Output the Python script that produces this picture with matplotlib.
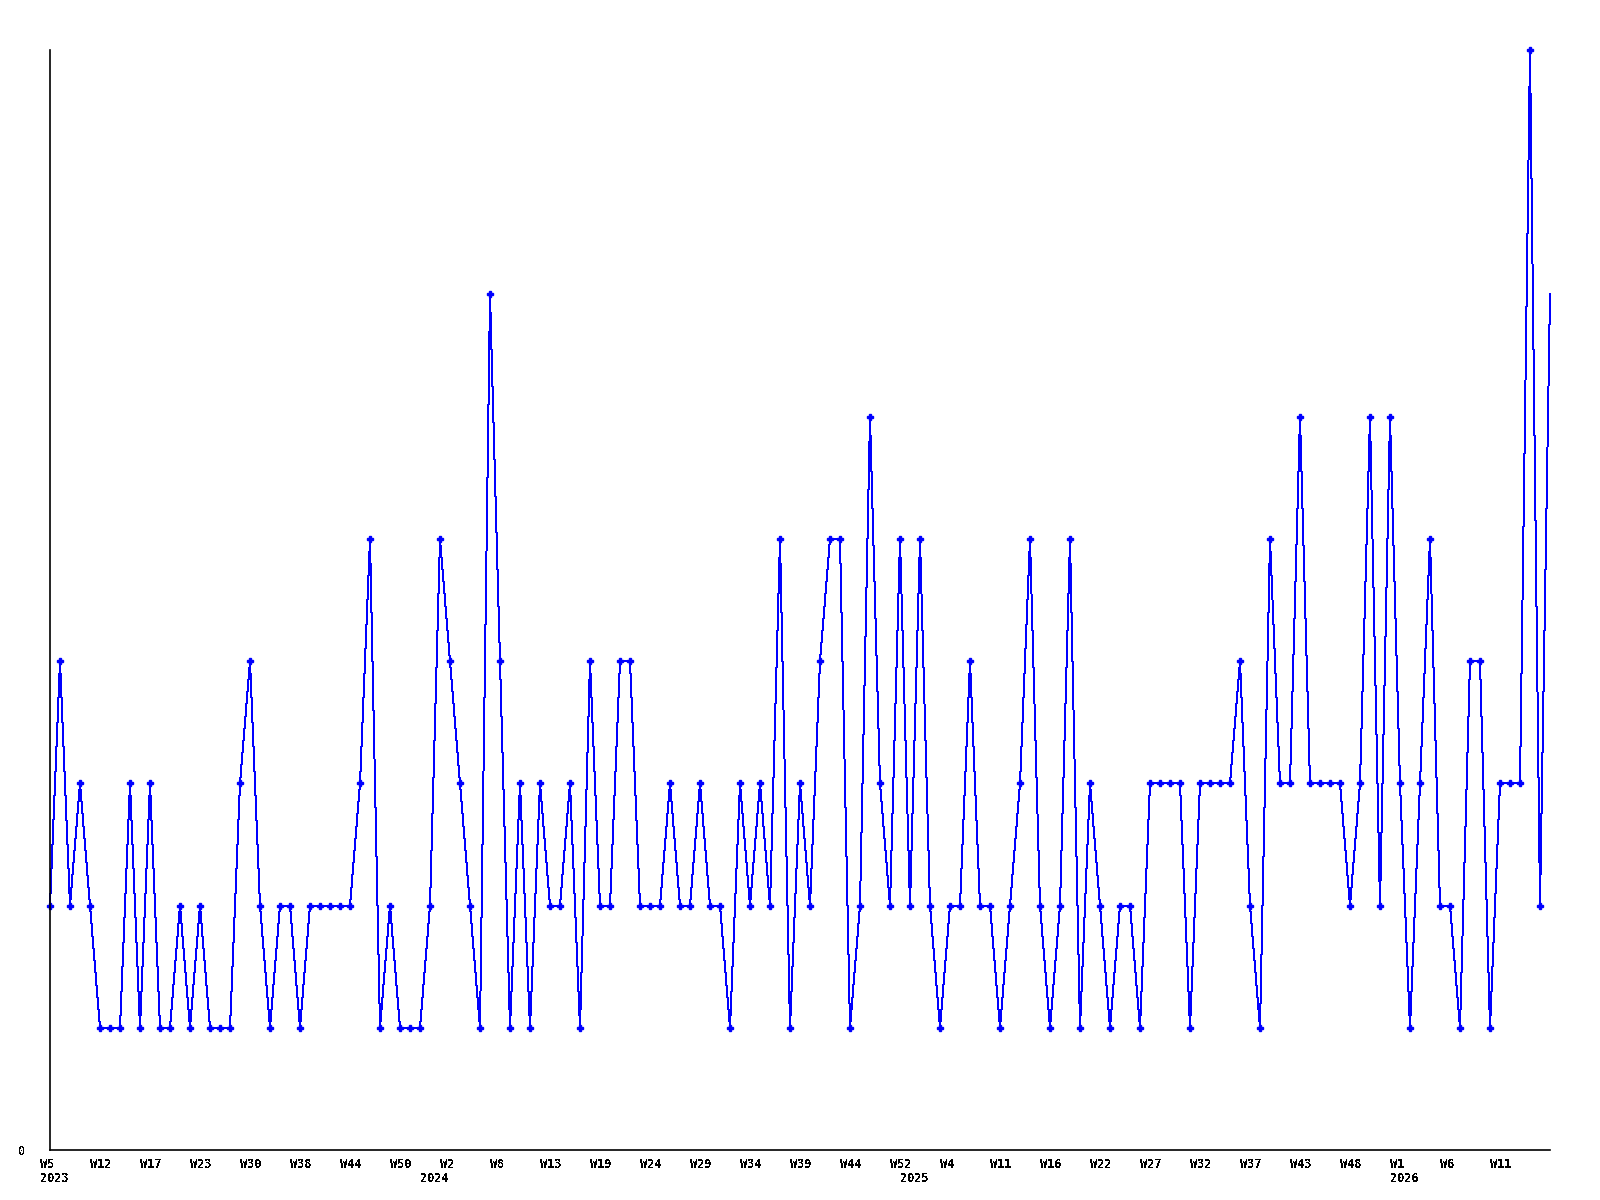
import numpy as np
import matplotlib
matplotlib.use("Agg")
import matplotlib.pyplot as plt
import matplotlib.transforms as mtransforms

# weekly counts, one point per week
values = [2, 4, 2, 3, 2, 1, 1, 1, 3, 1,
          3, 1, 1, 2, 1, 2, 1, 1, 1, 3,
          4, 2, 1, 2, 2, 1, 2, 2, 2, 2,
          2, 3, 5, 1, 2, 1, 1, 1, 2, 5,
          4, 3, 2, 1, 7, 4, 1, 3, 1, 3,
          2, 2, 3, 1, 4, 2, 2, 4, 4, 2,
          2, 2, 3, 2, 2, 3, 2, 2, 1, 3,
          2, 3, 2, 5, 1, 3, 2, 4, 5, 5,
          1, 2, 6, 3, 2, 5, 2, 5, 2, 1,
          2, 2, 4, 2, 2, 1, 2, 3, 5, 2,
          1, 2, 5, 1, 3, 2, 1, 2, 2, 1,
          3, 3, 3, 3, 1, 3, 3, 3, 3, 4,
          2, 1, 5, 3, 3, 6, 3, 3, 3, 3,
          2, 3, 6, 2, 6, 3, 1, 3, 5, 2,
          2, 1, 4, 4, 1, 3, 3, 3, 9, 2,
          7]

week_labels = ["W5", "W12", "W17", "W23", "W30", "W38", "W44", "W50", "W2", "W8",
               "W13", "W19", "W24", "W29", "W34", "W39", "W44", "W52", "W4", "W11",
               "W16", "W22", "W27", "W32", "W37", "W43", "W48", "W1", "W6", "W11"]
week_label_idx = list(range(0, 150, 5))

years = ["2023", "2024", "2025", "2026"]
year_idx = [0, 38, 86, 135]

plt.rcParams['text.antialiased'] = False
font = dict(family="DejaVu Sans Mono", weight="bold", size=8.6)

fig = plt.figure(figsize=(16, 12), dpi=100)
ax = fig.add_axes([50/1600, 50/1200, 1500/1600, 1100/1200])

x = np.arange(len(values))
ax.plot(x, values, color="#0000ff", lw=0.72, antialiased=False, clip_on=False,
        marker="P", markersize=4, markevery=slice(0, len(values) - 1))

ax.set_xlim(0, len(values) - 1)
ax.set_ylim(0, 9)

for s in ["top", "right"]:
    ax.spines[s].set_visible(False)
ax.spines["left"].set_linewidth(1.2)
ax.spines["bottom"].set_linewidth(1.2)

ax.set_yticks([0])
ax.set_yticklabels(["0"], **font)
ax.tick_params(axis="y", length=0, pad=18)

ax.set_xticks(week_label_idx)
ax.set_xticklabels(week_labels, ha="left", va="top", **font)
ax.tick_params(axis="x", length=0, pad=6)
shift = mtransforms.ScaledTranslation(-10/100, 0, fig.dpi_scale_trans)
for lbl in ax.get_xticklabels():
    lbl.set_transform(lbl.get_transform() + shift)

year_trans = mtransforms.offset_copy(ax.get_xaxis_transform(), fig=fig,
                                     x=-10, y=-22, units="dots")
for yr, i in zip(years, year_idx):
    ax.text(i, 0, yr, transform=year_trans, ha="left", va="top", **font)

plt.savefig("out.png", dpi=100)
